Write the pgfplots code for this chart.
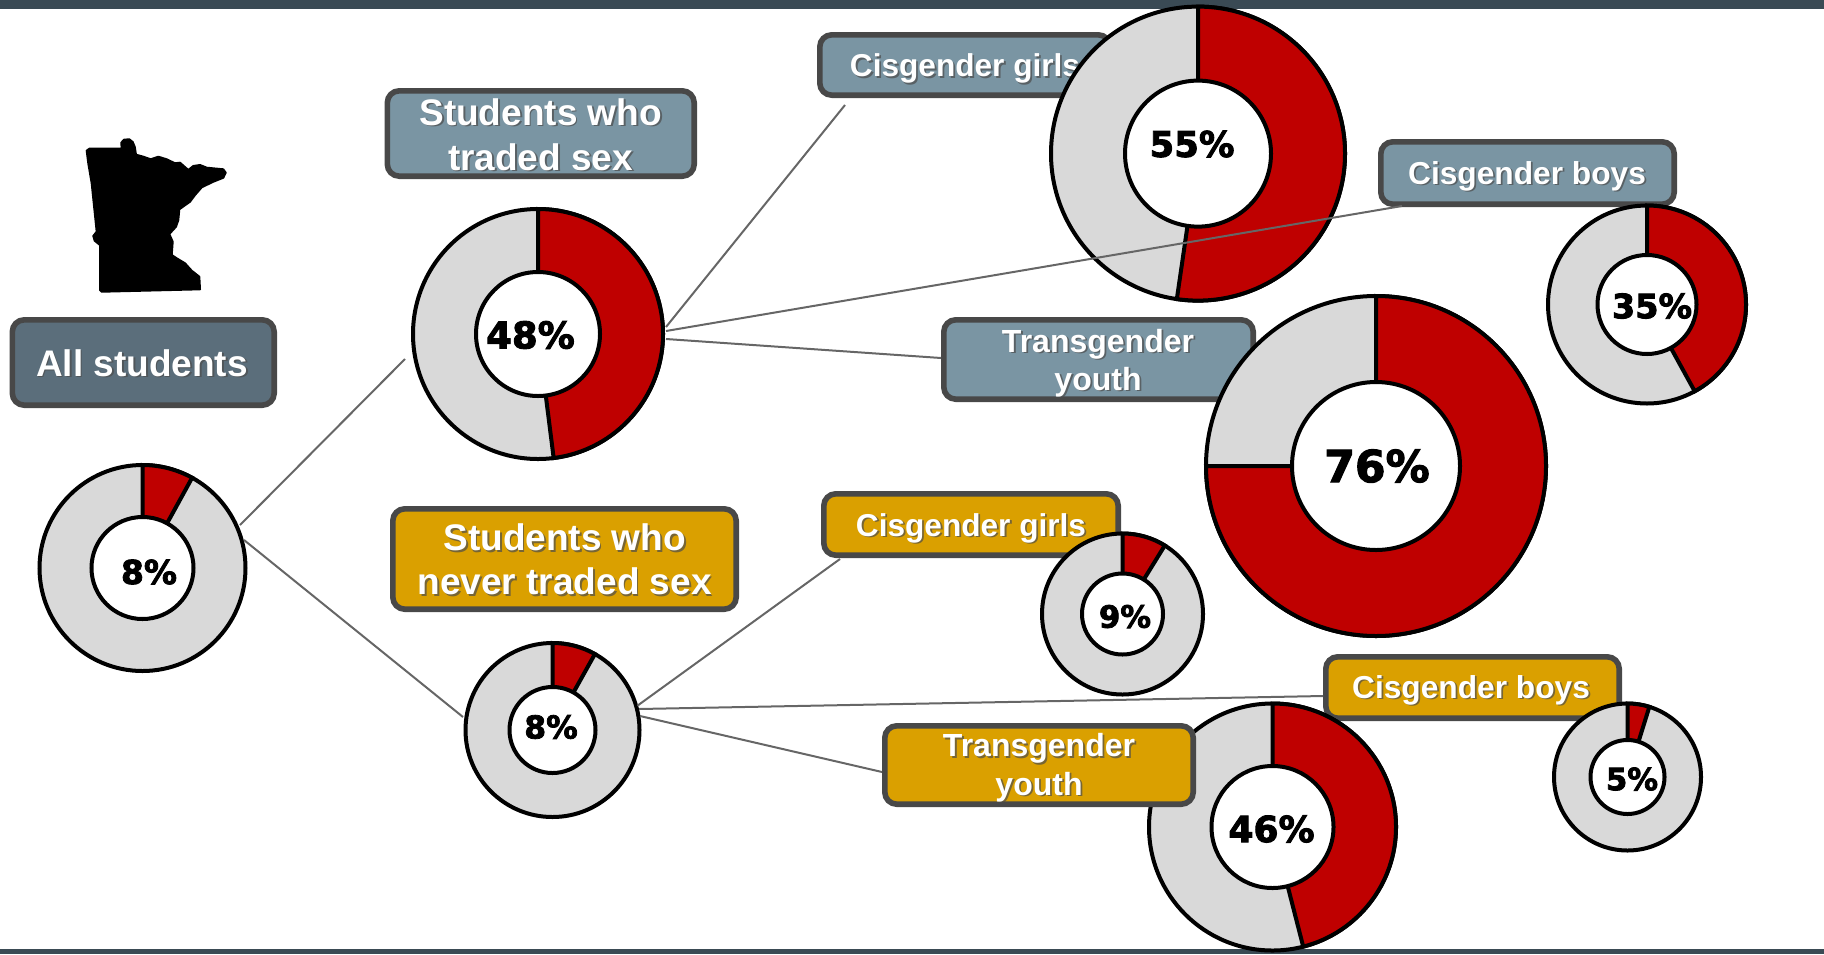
\documentclass[border=0pt]{standalone}
\usepackage{pgfplots}
\usepackage{pgfplotstable}
\usepackage{fontspec}
\pgfplotsset{compat=1.18}
\setmainfont{Liberation Sans}
\newfontfamily\dvfont{DejaVu Sans}[BoldFeatures={FakeBold=2.5}]
\definecolor{donutred}{HTML}{BF0000}
\definecolor{donutgray}{HTML}{D9D9D9}
\definecolor{boxblue}{HTML}{7A95A3}
\definecolor{boxdark}{HTML}{5B6E7B}
\definecolor{boxgold}{HTML}{DAA000}
\definecolor{boxedge}{HTML}{484848}
\definecolor{barcol}{HTML}{3A4A54}
\definecolor{linecol}{HTML}{666666}

% x y = centre; spec = outer radius / inner radius / slice share / printed label /
% label dx / label dy / label size (px of the reference)
\pgfplotstableread{
x      y     spec
142.5  568   105/53/8/8/6.5/4/33
538    334   127/64/48/48/-7.5/1/37
552.5  730   89/45/8.1/8/-1.5/-3/31.5
1198   153.6 149/75/52.3/55/-6/-9.6/35.5
1647   304.5 101/51.5/42/35/5/1.5/33.5
1376   466   172/86/75/76/1/0/44
1122.5 614   82.5/42.5/8.8/9/2.5/2.5/30.7
1627.5 777   75.5/39/4.8/5/4.5/2/30.7
1272.5 827   125.5/63/46/46/-1/2/36
}\donuts

\pgfdeclareplotmark{nothing}{}

\def\drawdonut#1/#2/#3/#4/#5/#6/#7\relax{%
    \pgfmathsetmacro\ro{(#1-2)*0.5}%
    \pgfmathsetmacro\ri{(#2-2)*0.5}%
    \pgfmathsetmacro\ang{90-3.6*#3}%
    \pgfmathsetmacro\lx{#5*0.5}%
    \pgfmathsetmacro\ly{-(#6)*0.5}%
    \pgfmathsetmacro\fz{#7*0.5}%
    \filldraw[fill=donutgray, draw=black, line width=2pt] (0pt,0pt) circle[radius=\ro pt];
    \filldraw[fill=donutred, draw=black, line width=2pt, line join=miter]
      (90:\ri pt) -- (90:\ro pt) arc[start angle=90, end angle=\ang, radius=\ro pt] -- (\ang:\ri pt) -- cycle;
    \filldraw[fill=white, draw=black, line width=2pt] (0pt,0pt) circle[radius=\ri pt];
    \node[inner sep=0pt, text=black, font=\dvfont\fontsize{\fz}{\fz}\selectfont\bfseries]
      at (\lx pt,\ly pt) {#4\%};
}

\newcommand{\boxplot}[5]{% left top right bottom fill (outer edges)
  \addplot[forget plot, fill=#5, draw=boxedge, line width=2.8pt, rounded corners=6pt]
    coordinates {(#1+2.8,#2+2.8) (#3-2.8,#2+2.8) (#3-2.8,#4-2.8) (#1+2.8,#4-2.8)} -- cycle;
}
\newcommand{\boxtext}[4]{% centre x, baseline y, size in pt (px/2), text
  \node[anchor=base, inner sep=0pt, text=black!70, opacity=0.7,
        font=\fontsize{#3}{#3}\selectfont\bfseries] at (axis cs:#1+1.8,#2+1.8) {#4};
  \node[anchor=base, inner sep=0pt, text=white,
        font=\fontsize{#3}{#3}\selectfont\bfseries] at (axis cs:#1,#2) {#4};
}
\pgfplotsset{page/.style={
  scale only axis, width=912pt, height=477pt,
  xmin=0, xmax=1824, ymin=0, ymax=954, y dir=reverse,
  hide axis, clip=false,
}}

\begin{document}
\begin{tikzpicture}
\begin{axis}[page]
% frame bars
\addplot[forget plot, fill=barcol, draw=none] coordinates {(0,0) (1824,0) (1824,9) (0,9)} -- cycle;
\addplot[forget plot, fill=barcol, draw=none] coordinates {(0,949) (1824,949) (1824,954) (0,954)} -- cycle;

% state outline
\addplot[forget plot, fill=black, draw=black, line width=1pt, line join=round]
  coordinates {
(86.7,150.7) (89.3,148.7) (121.7,148.7) (121.3,142.7) (124,139.7) (129.3,139.3) (132.7,142)
(134.7,146.7) (136,154.7) (143.3,156.7) (150.7,159.3) (158.3,156.7) (166.7,159.3) (175,163.3)
(180,162.7) (188.3,170) (193.3,166) (200,165) (206.7,167.7) (223.3,169.3) (225.7,172.7)
(223.3,177.7) (213.3,181.7) (201.7,187.3) (195,195) (190,201.7) (179.3,209.3) (178.3,220)
(176,226.7) (169.3,234) (172.7,241.7) (171.7,255) (176.7,258.3) (185,263.3) (191.7,270.7)
(199.3,276.7) (200,289.3) (101.7,291.7) (100,290) (100,245) (94.7,240.7) (93.3,236)
(96.7,231.7) (91.7,183.3) (88.3,163.3)
} -- cycle;

% label boxes behind the rings
\boxplot{9.5}{317}{277}{408}{boxdark}
\boxtext{142}{376}{18.5}{All students}
\boxplot{384.5}{88}{697}{179}{boxblue}
\boxtext{540.6}{125}{18.5}{Students who}
\boxtext{540.6}{170}{18.5}{traded sex}
\boxplot{817}{32}{1113}{98}{boxblue}
\boxtext{965}{76.7}{15.8}{Cisgender girls}
\boxplot{1378}{139}{1677}{207}{boxblue}
\boxtext{1527}{184}{15.85}{Cisgender boys}
\boxplot{941}{317}{1256}{402}{boxblue}
\boxtext{1098}{352}{16}{Transgender}
\boxtext{1098}{390}{16}{youth}
\boxplot{390}{506}{739}{612}{boxgold}
\boxtext{564.7}{550.7}{18.5}{Students who}
\boxtext{564.7}{594.7}{18.5}{never traded sex}
\boxplot{821}{491}{1121}{558}{boxgold}
\boxtext{971}{536}{15.8}{Cisgender girls}
\boxplot{1323}{654}{1622}{721}{boxgold}
\boxtext{1471}{698}{15.85}{Cisgender boys}

% rings, one per table row
\addplot[forget plot, scatter, only marks, mark=nothing,
  point meta=explicit symbolic,
  scatter/@pre marker code/.code={%
    \scope
    \expandafter\drawdonut\pgfplotspointmeta\relax
  },
  scatter/@post marker code/.code={\endscope},
] table[x=x, y=y, meta=spec] {\donuts};
\end{axis}

% second layer: what lies over the rings
\begin{axis}[page]
\boxplot{882}{723}{1196}{807}{boxgold}
\boxtext{1039}{756.7}{16}{Transgender}
\boxtext{1039}{795}{16}{youth}

% connectors
\addplot[forget plot, linecol, line width=1pt] coordinates {(240,525) (405,359)};
\addplot[forget plot, linecol, line width=1pt] coordinates {(244,540) (463,717)};
\addplot[forget plot, linecol, line width=1pt] coordinates {(666,327) (845,105)};
\addplot[forget plot, linecol, line width=1pt] coordinates {(666,331) (1402,206)};
\addplot[forget plot, linecol, line width=1pt] coordinates {(666,339) (941,358)};
\addplot[forget plot, linecol, line width=1pt] coordinates {(637.4,705.7) (840,559)};
\addplot[forget plot, linecol, line width=1pt] coordinates {(639,709) (1323,696)};
\addplot[forget plot, linecol, line width=1pt] coordinates {(640,716) (882,772)};
\end{axis}
\end{tikzpicture}
\end{document}
